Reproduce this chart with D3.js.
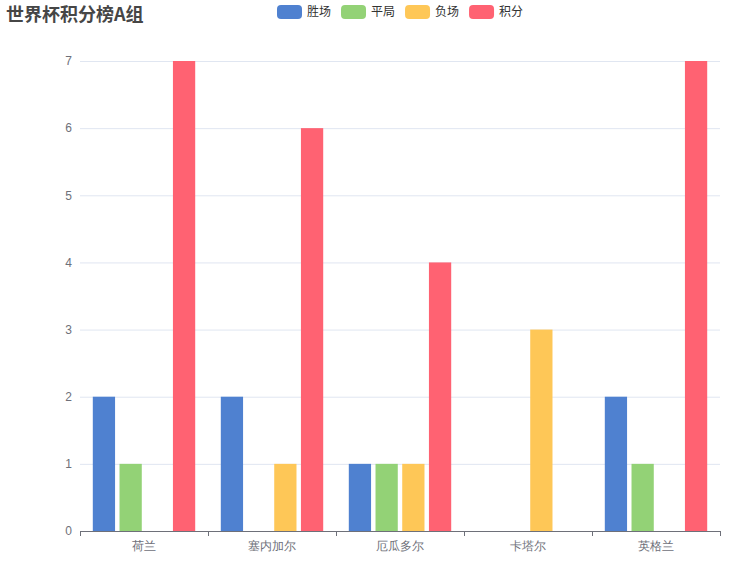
<!DOCTYPE html>
<html>
<head>
<meta charset="utf-8">
<script src="https://cdn.jsdelivr.net/npm/d3@7/dist/d3.min.js"></script>
<style>
  html, body { margin: 0; padding: 0; background: #fff; }
  svg { display: block; font-family: "Noto Sans CJK SC", "Noto Sans", sans-serif; }
</style>
</head>
<body>
<svg id="chart" width="740" height="576"></svg>
<script>
// Group A standings
const teams = ["荷兰", "塞内加尔", "厄瓜多尔", "卡塔尔", "英格兰"];
const seriesNames = ["胜场", "平局", "负场", "积分"];
const wins = [2, 2, 1, 0, 2];
const draws = [1, 0, 1, 0, 1];
const losses = [0, 1, 1, 3, 0];
const points = [7, 6, 4, 0, 7];
const yTicks = [0, 1, 2, 3, 4, 5, 6, 7];
const colors = ["#4f81d0", "#93d276", "#fec757", "#ff6272"];

const seriesValues = [wins, draws, losses, points];

const svg = d3.select("#chart");
const margin = { left: 80, right: 20, top: 61, bottom: 45 };
const W = 740, H = 576;

const x = d3.scaleBand().domain(teams).range([margin.left, W - margin.right]).padding(0);
const y = d3.scaleLinear().domain([0, 7]).range([H - margin.bottom, margin.top]);

// bar geometry inside a category band: 20% category gap, 20% gap between bars
const band = x.bandwidth();
const barW = band * 0.8 / (seriesNames.length + (seriesNames.length - 1) * 0.2);
const inner = d3.scaleBand().domain(seriesNames)
  .range([band * 0.1, band * 0.9]).paddingInner(0.2 / 1.2).paddingOuter(0);

// horizontal grid lines
svg.append("g").selectAll("line").data(yTicks.filter(d => d > 0)).join("line")
  .attr("x1", margin.left).attr("x2", W - margin.right)
  .attr("y1", d => y(d) + 0.5).attr("y2", d => y(d) + 0.5)
  .attr("stroke", "#e0e6f1").attr("stroke-width", 1);

// y axis labels
const yAxis = d3.axisLeft(y).tickValues(yTicks).tickSize(0).tickPadding(8).tickFormat(d3.format("d"));
const yg = svg.append("g").attr("transform", `translate(${margin.left},0)`).call(yAxis);
yg.select(".domain").remove();
yg.selectAll("text").attr("fill", "#6e7079").style("font-size", "12px")
  .style("font-family", "'Liberation Sans', 'Noto Sans', sans-serif");

// bars
const groups = svg.append("g").selectAll("g").data(teams).join("g")
  .attr("transform", d => `translate(${x(d)},0)`);
groups.selectAll("rect")
  .data((t, i) => seriesNames.map((s, k) => ({ s, k, v: seriesValues[k][i] })))
  .join("rect")
  .attr("x", d => inner(d.s))
  .attr("width", inner.bandwidth())
  .attr("y", d => y(d.v))
  .attr("height", d => y(0) - y(d.v))
  .attr("fill", d => colors[d.k]);

// x axis
const xAxis = d3.axisBottom(x).tickSize(0).tickPadding(10);
const xg = svg.append("g").attr("transform", `translate(0,${y(0)})`).call(xAxis);
xg.select(".domain").attr("stroke", "#6e7079").attr("d", `M${margin.left},0.5H${W - margin.right}`);
xg.selectAll("text").attr("fill", "#6e7079").style("font-size", "12px");
// category boundary ticks
xg.append("g").selectAll("line")
  .data(teams.map(t => x(t)).concat([W - margin.right]))
  .join("line")
  .attr("x1", d => Math.round(d) + 0.5).attr("x2", d => Math.round(d) + 0.5)
  .attr("y1", 0).attr("y2", 5)
  .attr("stroke", "#6e7079");

// title
svg.append("text").attr("x", 6).attr("y", 21)
  .attr("fill", "#464646").style("font-size", "18px").style("font-weight", "bold")
  .text("世界杯积分榜A组");

// legend
const legend = svg.append("g");
let lx = 277;
seriesNames.forEach((name, k) => {
  const g = legend.append("g").attr("transform", `translate(${lx},5)`);
  g.append("rect").attr("width", 25).attr("height", 14).attr("rx", 4).attr("fill", colors[k]);
  const t = g.append("text").attr("x", 30).attr("y", 7).attr("dy", "0.35em")
    .attr("fill", "#333").style("font-size", "12px").text(name);
  lx += 30 + t.node().getComputedTextLength() + 10;
});
</script>
</body>
</html>
